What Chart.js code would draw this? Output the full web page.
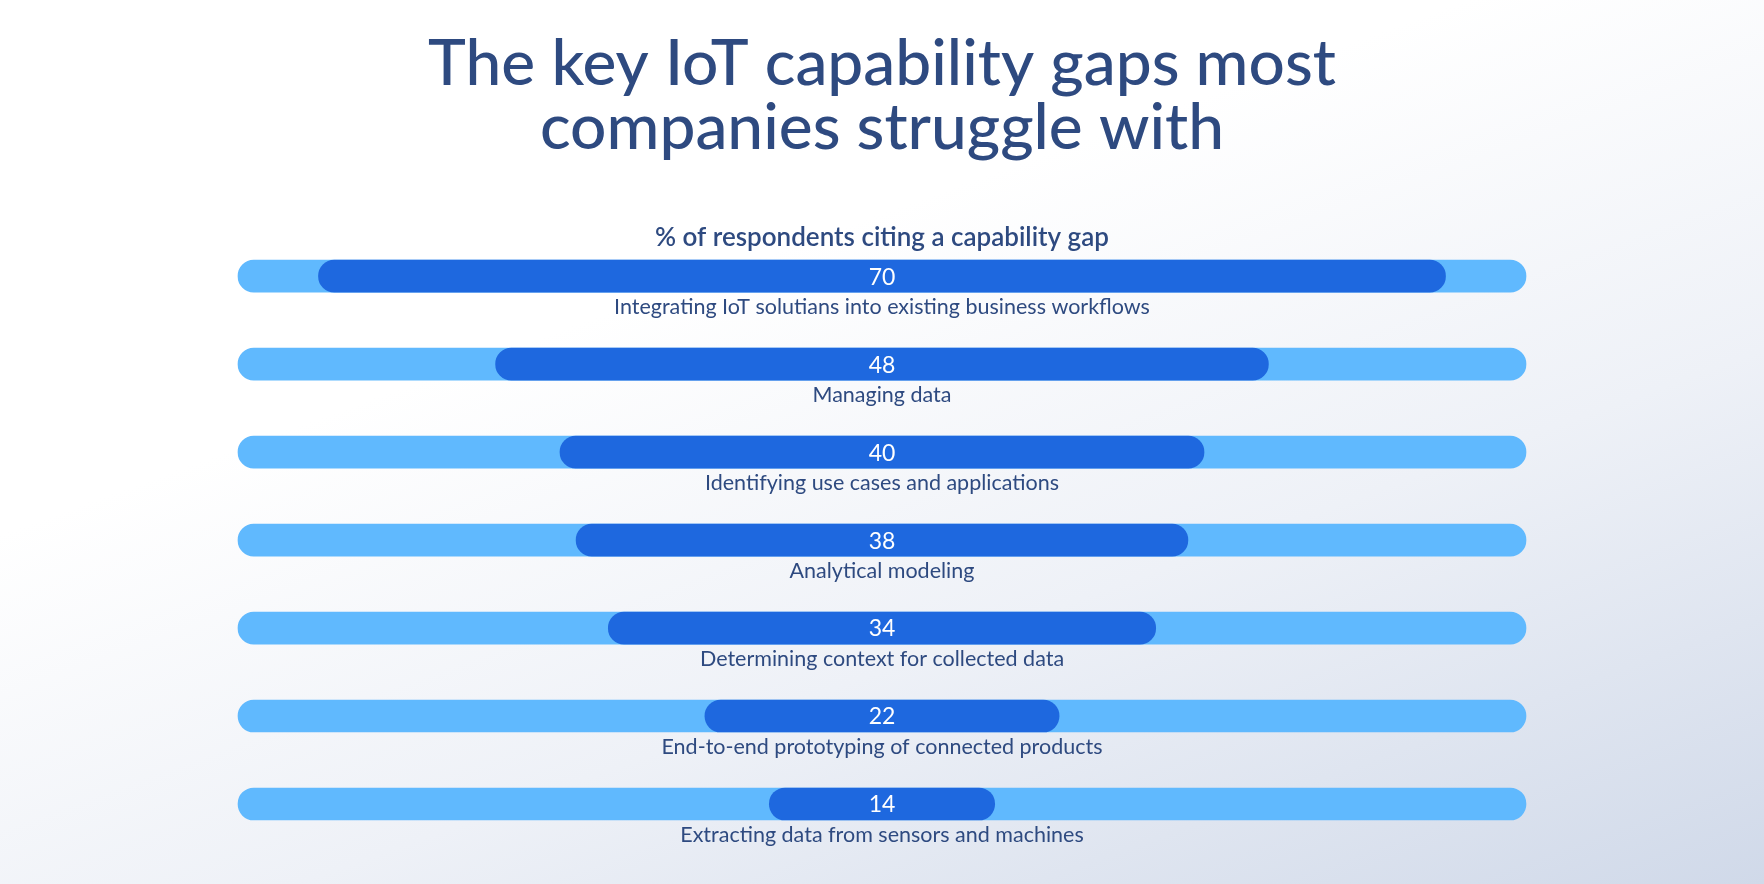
<!DOCTYPE html>
<html>
<head>
<meta charset="utf-8">
<script src="https://cdn.jsdelivr.net/npm/chart.js@4"></script>
<style>
	html, body {
		margin: 0;
		padding: 0;
		width: 1764px;
		height: 884px;
		overflow: hidden;
	}
	body {
		background: linear-gradient(160deg, #ffffff 35%, #eef1f7 65%, #d0d9e9 100%);
	}
	#wrap {
		width: 1764px;
		height: 884px;
	}
</style>
</head>
<body>
<div id="wrap"><canvas id="myChart"></canvas></div>
<script>
const categories = [
	"Integrating IoT solutians into existing business workflows",
	"Managing data",
	"Identifying use cases and applications",
	"Analytical modeling",
	"Determining context for collected data",
	"End-to-end prototyping of connected products",
	"Extracting data from sensors and machines",
];
const values = [70, 48, 40, 38, 34, 22, 14];
const trackMax = 80;

const titleText = ["The key IoT capability gaps most", "companies struggle with"];
const subtitleText = "% of respondents citing a capability gap";

const navy = "#2e4a80";
const fontFamily = "Lato, 'Open Sans', sans-serif";

// track behind every bar, and the bar itself, both centred on zero
const trackData = categories.map(() => [-trackMax / 2, trackMax / 2]);
const barData = values.map((v) => [-v / 2, v / 2]);

const labelPlugin = {
	id: "barLabels",
	afterDatasetsDraw(chart) {
		const ctx = chart.ctx;
		const meta = chart.getDatasetMeta(1);
		const xScale = chart.scales.x;
		ctx.save();
		ctx.textAlign = "center";
		ctx.textBaseline = "middle";
		meta.data.forEach((bar, i) => {
			const cx = xScale.getPixelForValue(0);
			ctx.fillStyle = "#ffffff";
			ctx.font = "400 23px " + fontFamily;
			ctx.fillText(values[i], cx, bar.y + 1);
			ctx.fillStyle = navy;
			ctx.font = "400 21.5px " + fontFamily;
			ctx.fillText(categories[i], cx, bar.y + 31);
		});
		ctx.restore();
	},
};

const ctx = document.getElementById("myChart").getContext("2d");

const myChart = new Chart(ctx, {
	type: "bar",
	data: {
		labels: categories,
		datasets: [
			{
				data: trackData,
				backgroundColor: "#60b9fe",
				borderRadius: 16,
				borderSkipped: false,
				barThickness: 32,
				clip: false,
				order: 2,
			},
			{
				data: barData,
				backgroundColor: "#1e68df",
				borderRadius: 16,
				borderSkipped: false,
				barThickness: 32,
				clip: false,
				order: 1,
			},
		],
	},
	options: {
		indexAxis: "y",
		responsive: true,
		maintainAspectRatio: false,
		animation: false,
		layout: {
			padding: { left: 238, right: 238, top: 0, bottom: 80 },
		},
		datasets: {
			bar: { grouped: false },
		},
		scales: {
			x: {
				display: false,
				min: -trackMax / 2,
				max: trackMax / 2,
			},
			y: {
				display: false,
				offset: false,
			},
		},
		plugins: {
			legend: { display: false },
			tooltip: { enabled: false },
			title: {
				display: true,
				text: titleText,
				color: navy,
				font: { family: fontFamily, size: 64, weight: "500", lineHeight: 1.0 },
				padding: { top: 32, bottom: 0 },
			},
			subtitle: {
				display: true,
				text: subtitleText,
				color: navy,
				font: { family: fontFamily, size: 26, weight: "600", lineHeight: 1.2 },
				padding: { top: 62, bottom: 23 },
			},
		},
	},
	plugins: [labelPlugin],
});
</script>
</body>
</html>
